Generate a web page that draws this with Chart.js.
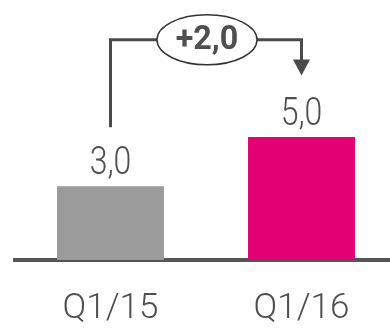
<!DOCTYPE html>
<html>
<head>
<meta charset="utf-8">
<script src="https://cdn.jsdelivr.net/npm/chart.js@4"></script>
<style>
html,body{margin:0;padding:0;background:#fff;overflow:hidden;}
#wrap{width:400px;height:329px;}
</style>
</head>
<body>
<div id="wrap"><canvas id="c" width="400" height="329"></canvas></div>
<script>
const categories = ["Q1/15", "Q1/16"];
const values = [3.0, 5.0];
const barColors = ["#9b9b9b", "#e20074"];
const yMin = 0;
const yMax = 10;

function fmt(v){ return v.toFixed(1).replace('.', ','); }

const TEXT = "#4f4f4f";
const LINE = "#4a4a4a";

const annot = {
  id: 'annot',
  afterDatasetsDraw(chart){
    const ctx = chart.ctx;
    const meta = chart.getDatasetMeta(0);
    const ys = chart.scales.y;
    ctx.save();
    // value labels
    ctx.fillStyle = TEXT;
    ctx.textAlign = 'center';
    ctx.textBaseline = 'alphabetic';
    meta.data.forEach((bar, i) => {
      ctx.save();
      ctx.translate(bar.x, bar.y - 12);
      ctx.scale(0.82, 1);
      ctx.font = "300 39px Roboto";
      ctx.fillText(fmt(values[i]), 0, 0);
      ctx.restore();
    });
    // bracket
    const x1 = meta.data[0].x, x2 = meta.data[1].x;
    const yTop = ys.getPixelForValue(8.95);
    const yLeftEnd = ys.getPixelForValue(5.4);
    const yTip = ys.getPixelForValue(7.5);
    const cx = 207, rx = 50, ry = 25;
    ctx.strokeStyle = LINE;
    ctx.lineWidth = 3;
    ctx.beginPath();
    ctx.moveTo(x1, yLeftEnd);
    ctx.lineTo(x1, yTop);
    ctx.lineTo(cx - rx, yTop);
    ctx.moveTo(cx + rx, yTop);
    ctx.lineTo(x2, yTop);
    ctx.lineTo(x2, yTip - 14);
    ctx.stroke();
    ctx.fillStyle = LINE;
    ctx.beginPath();
    ctx.moveTo(x2 - 8.5, yTip - 16);
    ctx.lineTo(x2 + 8.5, yTip - 16);
    ctx.lineTo(x2, yTip);
    ctx.closePath();
    ctx.fill();
    // ellipse
    ctx.lineWidth = 1.5;
    ctx.strokeStyle = "#333";
    ctx.beginPath();
    ctx.ellipse(cx, yTop, rx, ry, 0, 0, Math.PI * 2);
    ctx.stroke();
    ctx.fillStyle = TEXT;
    ctx.textBaseline = 'middle';
    ctx.save();
    ctx.translate(cx, yTop + 1);
    ctx.scale(0.95, 1);
    ctx.font = "bold 34px Roboto";
    const d = values[1] - values[0];
    ctx.fillText((d >= 0 ? "+" : "") + fmt(d), 0, 0);
    ctx.restore();
    ctx.restore();
  }
};

new Chart(document.getElementById('c'), {
  type: 'bar',
  data: {
    labels: categories,
    datasets: [{
      data: values,
      backgroundColor: barColors,
      borderWidth: 0,
      barPercentage: 0.56,
      categoryPercentage: 1.0
    }]
  },
  options: {
    responsive: false,
    animation: false,
    events: [],
    layout: { padding: { left: 15, right: 3, top: 14, bottom: 0 } },
    plugins: { legend: { display: false }, tooltip: { enabled: false } },
    scales: {
      x: {
        offset: true,
        grid: { display: false, drawTicks: false },
        border: { display: true, color: "#555", width: 4 },
        ticks: { color: TEXT, padding: 28, font: { family: "Roboto", size: 35, weight: 300 } },
        afterFit(s){ s.height = 69; }
      },
      y: {
        display: false,
        min: yMin,
        max: yMax
      }
    }
  },
  plugins: [annot]
});
</script>
</body>
</html>
